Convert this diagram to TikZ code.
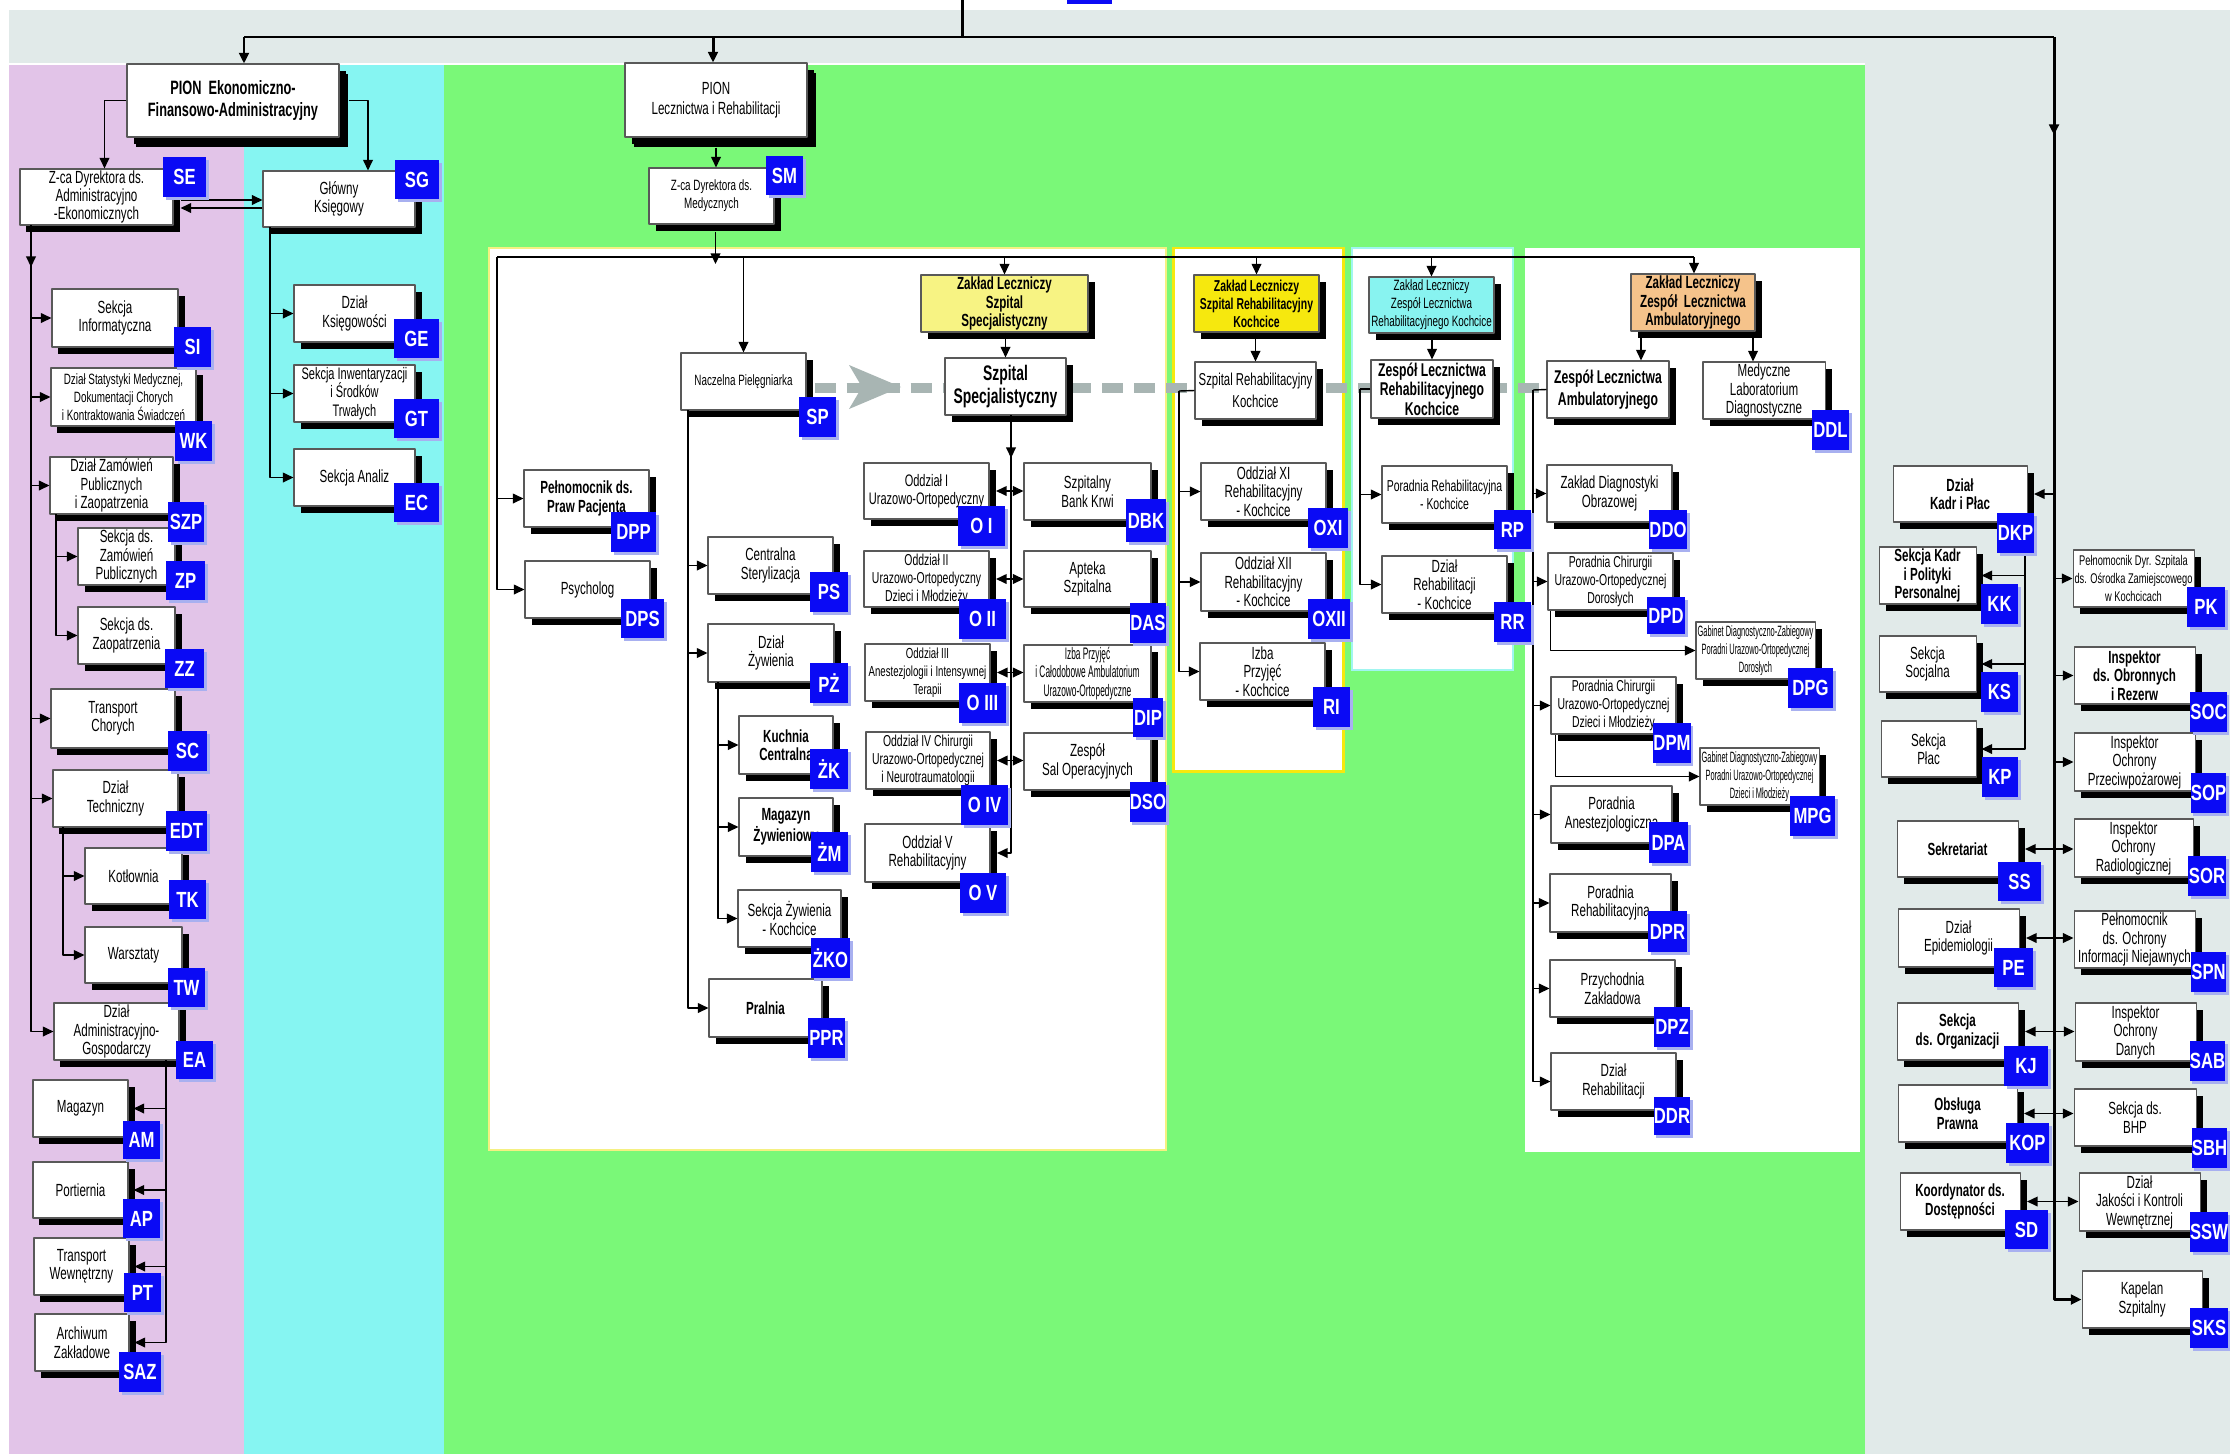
\documentclass[tikz,border=0pt]{standalone}
\usepackage{fontspec}
\setmainfont[FakeStretch=0.66]{Liberation Sans}
\newfontfamily\xnarrow[FakeStretch=0.5]{Liberation Sans}
\newfontfamily\codefamily[FakeStretch=0.76]{Liberation Sans}
\usetikzlibrary{arrows.meta,shadows,backgrounds}
\definecolor{bandgrey}{RGB}{225,234,233}
\definecolor{pinkbg}{RGB}{226,196,232}
\definecolor{cyanbg}{RGB}{134,245,242}
\definecolor{greenbg}{RGB}{122,248,120}
\definecolor{paleyellow}{RGB}{245,240,130}
\definecolor{rehabyellow}{RGB}{246,232,14}
\definecolor{palecyan}{RGB}{160,245,240}
\definecolor{specyellow}{RGB}{247,243,131}
\definecolor{rehabcyan}{RGB}{136,243,240}
\definecolor{ambulorange}{RGB}{245,195,139}
\definecolor{codeblue}{RGB}{10,10,245}
\definecolor{codeshade}{RGB}{168,176,240}
\definecolor{dashgrey}{RGB}{168,181,179}
\begin{document}
\begin{tikzpicture}[x=0.02cm, y=-0.02cm, line join=round, >={Triangle[length=6pt,width=5.5pt]},
  span/.style args={#1/#2/#3/#4}{at={({(#1+#3)/2},{(#2+#4)/2})},
    minimum width={(#3-#1)*0.02cm}, minimum height={(#4-#2)*0.02cm}},
  box/.style={draw=black!65, line width=0.6pt, fill=white, inner sep=0pt, align=center,
    font=\fontsize{10}{10.5}\selectfont,
    drop shadow={shadow xshift=0.13cm, shadow yshift=-0.13cm, fill=black, opacity=1}},
  bbox/.style={box, font=\fontsize{10}{10.5}\selectfont\bfseries},
  gabinet/.style={box, font=\xnarrow\fontsize{8.5}{10.3}\selectfont},
  pion/.style={box, drop shadow={shadow xshift=0.18cm, shadow yshift=-0.2cm, fill=black, opacity=1}},
  codebox/.style={fill=codeblue, text=white, inner sep=0pt,
    font=\codefamily\bfseries\fontsize{12.5}{13}\selectfont,
    drop shadow={shadow xshift=0.05cm, shadow yshift=-0.05cm, fill=codeshade, opacity=1}},
  link/.style={line width=0.8pt},
  trunk/.style={line width=1.7pt},
  dashline/.style={dashgrey, line width=0.2cm, dash pattern=on 0.42cm off 0.22cm}]
\useasboundingbox (0,0) rectangle (2230,1454);

% piony
\node[pion, font=\fontsize{11}{12}\selectfont\bfseries, span=127/64/339/137] (pionE) {PION \ Ekonomiczno-\\Finansowo-Administracyjny};
\node[pion, font=\fontsize{10}{11.5}\selectfont, span=625/63/807/137] (pionL) {PION\\Lecznictwa i Rehabilitacji};

% pion ekonomiczny
\node[box, span=20/169/173/225] (se) {Z-ca Dyrektora ds.\\Administracyjno\\-Ekonomicznych};
\node[box, span=263/171/415/227] (sg) {Główny\\Księgowy};
\node[box, span=52/289/178/347] (si) {Sekcja\\Informatyczna};
\node[box, font=\fontsize{8.5}{10.3}\selectfont, span=51/368/196/426] (wk) {Dział Statystyki Medycznej,\\Dokumentacji Chorych\\i Kontraktowania Świadczeń};
\node[box, span=50/457/173/514] (szp) {Dział Zamówień\\Publicznych\\i Zaopatrzenia};
\node[box, span=78/528/175/585] (zp) {Sekcja ds.\\Zamówień\\Publicznych};
\node[box, span=78/607/175/664] (zz) {Sekcja ds.\\Zaopatrzenia};
\node[box, span=51/689/175/748] (sc) {Transport\\Chorych};
\node[box, span=53/770/178/827] (edt) {Dział\\Techniczny};
\node[box, span=85/848/182/904] (tk) {Kotłownia};
\node[box, span=85/927/182/983] (tw) {Warsztaty};
\node[box, span=54/1003/179/1060] (ea) {Dział\\Administracyjno-\\Gospodarczy};
\node[box, span=33/1080/128/1137] (am) {Magazyn};
\node[box, span=33/1162/128/1218] (ap) {Portiernia};
\node[box, span=34/1238/129/1295] (pt) {Transport\\Wewnętrzny};
\node[box, span=35/1314/129/1371] (saz) {Archiwum\\Zakładowe};
\node[box, span=294/285/415/342] (ge) {Dział\\Księgowości};
\node[box, font=\fontsize{9.5}{10.5}\selectfont, span=294/365/415/422] (gt) {Sekcja Inwentaryzacji\\i Środków\\Trwałych};
\node[box, span=294/449/415/506] (ec) {Sekcja Analiz};

% pion lecznictwa
\node[box, font=\fontsize{8.5}{10.3}\selectfont, span=649/168/774/224] (sm) {Z-ca Dyrektora ds.\\Medycznych};
\node[box, font=\fontsize{8.5}{10.3}\selectfont, span=681/353/806/410] (sp) {Naczelna Pielęgniarka};
\node[bbox, span=524/470/649/527] (dpp) {Pełnomocnik ds.\\Praw Pacjenta};
\node[box, span=525/561/650/618] (dps) {Psycholog};
\node[box, span=708/537/833/594] (ps) {Centralna\\Sterylizacja};
\node[box, span=708/624/834/682] (pz) {Dział\\Żywienia};
\node[bbox, span=739/716/833/774] (zk) {Kuchnia\\Centralna};
\node[bbox, span=739/798/833/856] (zmg) {Magazyn\\Żywieniowy};
\node[box, span=738/890/841/947] (zko) {Sekcja Żywienia\\- Kochcice};
\node[bbox, span=709/979/822/1037] (ppr) {Pralnia};

\node[bbox, fill=specyellow, span=921/275/1088/332] (zss) {Zakład Leczniczy\\Szpital\\Specjalistyczny};
\node[box, font=\fontsize{12}{13.5}\selectfont\bfseries, span=945/358/1066/415] (szs) {Szpital\\Specjalistyczny};
\node[box, font=\fontsize{9.5}{10.5}\selectfont, span=864/463/989/519] (oi) {Oddział I\\Urazowo-Ortopedyczny};
\node[box, font=\fontsize{9}{10.3}\selectfont, span=864/551/989/607] (oii) {Oddział II\\Urazowo-Ortopedyczny\\Dzieci i Młodzieży};
\node[box, font=\fontsize{8.3}{10.3}\selectfont, span=865/644/990/701] (oiii) {Oddział III\\Anestezjologii i Intensywnej\\Terapii};
\node[box, font=\fontsize{9}{10.3}\selectfont, span=866/732/990/789] (oiv) {Oddział IV Chirurgii\\Urazowo-Ortopedycznej\\i Neurotraumatologii};
\node[box, span=865/824/990/882] (ov) {Oddział V\\Rehabilitacyjny};
\node[box, span=1024/463/1151/520] (dbk) {Szpitalny\\Bank Krwi};
\node[box, span=1024/551/1151/607] (das) {Apteka\\Szpitalna};
\node[gabinet, font=\xnarrow\fontsize{9.5}{10.3}\selectfont, span=1024/645/1151/702] (dip) {Izba Przyjęć\\i Całodobowe Ambulatorium\\Urazowo-Ortopedyczne};
\node[box, span=1024/733/1151/790] (dso) {Zespół\\Sal Operacyjnych};

\node[bbox, font=\fontsize{9}{10.3}\selectfont\bfseries, fill=rehabyellow, span=1194/275/1319/332] (zsr) {Zakład Leczniczy\\Szpital Rehabilitacyjny\\Kochcice};
\node[box, font=\fontsize{9.8}{12.5}\selectfont, span=1195/362/1316/419] (srk) {Szpital Rehabilitacyjny\\Kochcice};
\node[box, span=1201/463/1326/520] (oxi) {Oddział XI\\Rehabilitacyjny\\- Kochcice};
\node[box, span=1201/553/1326/611] (oxii) {Oddział XII\\Rehabilitacyjny\\- Kochcice};
\node[box, span=1200/643/1325/700] (ri) {Izba\\Przyjęć\\- Kochcice};

\node[box, font=\fontsize{8.5}{10.3}\selectfont, fill=rehabcyan, span=1369/277/1494/333] (zlr) {Zakład Leczniczy\\Zespół Lecznictwa\\Rehabilitacyjnego Kochcice};
\node[box, font=\fontsize{10.5}{11}\selectfont\bfseries, span=1371/360/1493/418] (zrk) {Zespół Lecznictwa\\Rehabilitacyjnego\\Kochcice};
\node[box, font=\fontsize{9}{10.3}\selectfont, span=1382/466/1507/523] (rp) {Poradnia Rehabilitacyjna\\- Kochcice};
\node[box, span=1382/556/1507/613] (rr) {Dział\\Rehabilitacji\\- Kochcice};

\node[bbox, fill=ambulorange, span=1631/274/1755/331] (zla) {Zakład Leczniczy\\Zespół \ Lecznictwa\\Ambulatoryjnego};
\node[box, font=\fontsize{10.5}{12.5}\selectfont\bfseries, span=1547/361/1669/418] (zam) {Zespół Lecznictwa\\Ambulatoryjnego};
\node[box, span=1703/362/1825/419] (ddl) {Medyczne\\Laboratorium\\Diagnostyczne};
\node[box, span=1547/465/1672/522] (ddo) {Zakład Diagnostyki\\Obrazowej};
\node[box, font=\fontsize{9}{10.3}\selectfont, span=1548/553/1673/610] (dpd) {Poradnia Chirurgii\\Urazowo-Ortopedycznej\\Dorosłych};
\node[gabinet, span=1696/622/1815/679] (dpg) {Gabinet Diagnostyczno-Zabiegowy\\Poradni Urazowo-Ortopedycznej\\Dorosłych};
\node[box, font=\fontsize{9}{10.3}\selectfont, span=1551/677/1676/734] (dpm) {Poradnia Chirurgii\\Urazowo-Ortopedycznej\\Dzieci i Młodzieży};
\node[gabinet, span=1700/748/1819/805] (mpg) {Gabinet Diagnostyczno-Zabiegowy\\Poradni Urazowo-Ortopedycznej\\Dzieci i Młodzieży};
\node[box, span=1551/786/1672/843] (dpa) {Poradnia\\Anestezjologiczna};
\node[box, span=1550/874/1671/932] (dpr) {Poradnia\\Rehabilitacyjna};
\node[box, span=1550/960/1675/1017] (dpz) {Przychodnia\\Zakładowa};
\node[box, span=1551/1053/1676/1110] (ddr) {Dział\\Rehabilitacji};

% komorki dyrektora
\node[bbox, span=1893/466/2027/522] (dkp) {Dział\\Kadr i Płac};
\node[bbox, span=1879/547/1976/604] (kk) {Sekcja Kadr\\i Polityki\\Personalnej};
\node[box, span=1879/636/1976/692] (ks) {Sekcja\\Socjalna};
\node[box, span=1881/721/1976/777] (kp) {Sekcja\\Płac};
\node[bbox, span=1897/821/2018/877] (ss) {Sekretariat};
\node[box, span=1898/909/2019/967] (pe) {Dział\\Epidemiologii};
\node[bbox, span=1897/1003/2018/1060] (kj) {Sekcja\\ds. Organizacji};
\node[bbox, span=1898/1085/2017/1142] (kop) {Obsługa\\Prawna};
\node[bbox, span=1900/1173/2020/1230] (sd) {Koordynator ds.\\Dostępności};
\node[box, font=\fontsize{8}{10.3}\selectfont, span=2073/550/2194/607] (pk) {Pełnomocnik Dyr. Szpitala\\ds. Ośrodka Zamiejscowego\\w Kochcicach};
\node[bbox, span=2074/647/2195/704] (soc) {Inspektor\\ds. Obronnych\\i Rezerw};
\node[box, span=2074/733/2195/791] (sop) {Inspektor\\Ochrony\\Przeciwpożarowej};
\node[box, span=2074/819/2193/877] (sor) {Inspektor\\Ochrony\\Radiologicznej};
\node[box, span=2074/911/2195/968] (spn) {Pełnomocnik\\ds. Ochrony\\Informacji Niejawnych};
\node[box, span=2075/1003/2196/1061] (sab) {Inspektor\\Ochrony\\Danych};
\node[box, span=2074/1089/2196/1146] (sbh) {Sekcja ds.\\BHP};
\node[box, span=2079/1173/2200/1231] (ssw) {Dział\\Jakości i Kontroli\\Wewnętrznej};
\node[box, span=2082/1271/2202/1328] (sks) {Kapelan\\Szpitalny};

% linie glowne
\coordinate (dir) at (962,0);
\coordinate (tE) at (244,37);
\coordinate (tL) at (713,37);
\coordinate (tR) at (2054,37);
\draw[trunk] (dir) -- (dir |- tE);
\draw[trunk] (tE) -- (tR);
\draw[trunk,->] (tE) -- (tE |- pionE.north);
\draw[trunk,->] (tL) -- (tL |- pionL.north);
\draw[trunk,->] (tR) -- ++(0,98);
\draw[trunk,->] (tR) |- (sks.west);
\fill[codeblue] (1067,0) rectangle (1112,4);

% pion ekonomiczny
\draw[link,->] (pionE.west) -| ([shift={(8,0)}]se.north);
\draw[link,->] ([shift={(9,0)}]pionE.east) -| ([shift={(29,0)}]sg.north);
\draw[link,->] ([shift={(7,3)}]se.east) -- ([shift={(0,3)}]se.east -| sg.west);
\draw[link,->] ([shift={(0,11)}]se.east -| sg.west) -- ([shift={(7,11)}]se.east);
\coordinate (sA) at (31,225);
\draw[link,->] (sA) -- ++(0,42);
\foreach \n in {si,wk,szp,sc,edt,ea}
  \draw[link,->] (sA) |- (\n.west);
\coordinate (sB) at (56,514);
\foreach \n in {zp,zz}
  \draw[link,->] (sB) |- (\n.west);
\coordinate (sC) at (63,827);
\foreach \n in {tk,tw}
  \draw[link,->] (sC) |- (\n.west);
\coordinate (sD) at (166,1060);
\foreach \n in {am,ap,pt,saz}
  \draw[link,->] (sD) |- ([xshift=0.1cm]\n.east);
\coordinate (sE) at (270,227);
\foreach \n in {ge,gt,ec}
  \draw[link,->] (sE) |- (\n.west);

% pion lecznictwa
\draw[link,->] ([yshift=-0.2cm]pionL.south) -- (pionL.south |- sm.north);
\coordinate (dL) at (497,257);
\coordinate (dR) at (1694,257);
\draw[link] (dL) -- (dR);
\draw[link,->] ([shift={(4,7)}]sm.south) -- ([shift={(4,7)}]sm.south |- dL);
\foreach \n in {dpp,dps}
  \draw[link,->] (dL) |- (\n.west);
\foreach \n in {sp,zss,zsr,zlr}
  \draw[link,->] (\n.north |- dL) -- (\n.north);
\draw[link,->] (dR) -- (dR |- zla.north);
\draw[link,->] (szs.north |- zss.south) -- (szs.north);
\draw[link,->] (srk.north |- zsr.south) -- (srk.north);
\draw[link,->] (zrk.north |- zlr.south) -- (zrk.north);
\draw[link,->] ([xshift=0.66cm]zam.north |- zla.south) -- ([xshift=0.66cm]zam.north);
\draw[link,->] ([xshift=-0.22cm]ddl.north |- zla.south) -- ([xshift=-0.22cm]ddl.north);
\coordinate (sN) at (688,410);
\foreach \n in {ps,pz,ppr}
  \draw[link,->] (sN) |- (\n.west);
\coordinate (sZ) at (718,682);
\foreach \n in {zk,zmg,zko}
  \draw[link,->] (sZ) |- (\n.west);
\coordinate (sS) at (1011,415);
\draw[link,->] (sS) -- ++(0,43);
\draw[link,->] (sS) |- ([xshift=0.13cm]ov.east);
\foreach \a/\b in {oi/dbk,oii/das,oiii/dip,oiv/dso}
  \draw[link,<->] ([xshift=0.13cm]\a.east) -- (\a.east -| \b.west);
\coordinate (sR) at (1179,391);
\draw[link] (srk.west) -- (sR);
\foreach \n in {oxi,oxii,ri}
  \draw[link,->] (sR) |- (\n.west);
\coordinate (sP) at (1360,389);
\draw[link] (zrk.west) -- (sP);
\foreach \n in {rp,rr}
  \draw[link,->] (sP) |- (\n.west);
\coordinate (sQ) at (1533,390);
\draw[link] (zam.west) -- (sQ);
\foreach \n in {ddo,dpd,dpm,dpa,dpr,dpz,ddr}
  \draw[link,->] (sQ) |- (\n.west);
\draw[link,->] ([xshift=0.06cm]dpd.south west) |- (dpg.west);
\draw[link,->] ([xshift=0.1cm]dpm.south west) |- (mpg.west);

% komorki dyrektora
\draw[link,->] (dkp.east -| tR) -- ([xshift=0.13cm]dkp.east);
\coordinate (sK) at (2025,522);
\foreach \n in {kk,ks,kp}
  \draw[link,->] (sK) |- ([xshift=0.1cm]\n.east);
\foreach \n in {pk,soc,sop}
  \draw[link,->] (\n.west -| tR) -- (\n.west);
\foreach \a/\b in {ss/sor,pe/spn,kj/sab,kop/sbh,sd/ssw}
  \draw[link,<->] ([xshift=0.13cm]\a.east) -- (\a.east -| \b.west);

% tla
\begin{scope}[on background layer]
  \fill[bandgrey] (9,10) rectangle (2230,63);
  \fill[bandgrey] (1865,10) rectangle (2230,1454);
  \fill[pinkbg] (9,65) rectangle (244,1454);
  \fill[cyanbg] (244,65) rectangle (444,1454);
  \fill[greenbg] (444,65) rectangle (1865,1454);
  \filldraw[fill=white, draw=paleyellow, line width=1.2pt] (489,248) rectangle (1166,1150);
  \filldraw[fill=white, draw=rehabyellow, line width=1.7pt] (1173,248) rectangle (1343,771);
  \filldraw[fill=white, draw=palecyan, line width=1.2pt] (1352,248) rectangle (1513,670);
  \fill[white] (1525,248) rectangle (1860,1152);
  \draw[dashline] ([shift={(8,6)}]sp.east) -- ([shift={(-7,6)}]sp.east -| zam.west);
  \fill[dashgrey] (849,365) -- (901,387) -- (849,409) -- (862,387) -- cycle;
\end{scope}

% kody
\foreach \n/\xa/\ya/\xb/\yb/\t in {se/163/157/206/197/SE, sg/395/160/439/199/SG,
  si/174/327/211/367/SI, wk/175/421/212/461/WK, szp/168/502/204/542/SZP,
  zp/166/561/205/600/ZP, zz/165/649/204/688/ZZ, sc/168/731/207/771/SC,
  edt/166/811/207/851/EDT, tk/169/880/206/919/TK, tw/168/968/205/1007/TW,
  ea/176/1041/213/1079/EA, am/123/1121/160/1159/AM, ap/123/1199/160/1238/AP,
  pt/124/1273/161/1312/PT, saz/119/1352/161/1392/SAZ, ge/394/319/439/358/GE,
  gt/394/399/439/438/GT, ec/394/483/439/522/EC, sm/766/156/803/195/SM,
  sp/799/397/836/437/SP, dpp/611/512/656/552/DPP, dps/621/599/664/638/DPS,
  ps/810/572/848/612/PS, pz/810/663/848/703/PŻ, zk/810/749/848/789/ŻK,
  zmg/811/832/848/872/ŻM, zko/811/938/850/978/ŻKO, ppr/808/1018/845/1058/PPR,
  oi/958/506/1005/546/O I, oii/959/599/1006/639/O II, oiii/959/683/1006/723/O III,
  oiv/961/785/1008/825/O IV, ov/960/873/1006/913/O V, dbk/1126/499/1166/542/DBK,
  das/1130/603/1166/643/DAS, dip/1133/698/1163/737/DIP, dso/1130/782/1166/822/DSO,
  oxi/1308/508/1348/548/OXI, oxii/1308/599/1350/639/OXII, ri/1313/687/1350/727/RI,
  rp/1494/510/1531/549/RP, rr/1494/602/1531/642/RR, ddl/1812/410/1849/450/DDL,
  ddo/1649/510/1687/549/DDO, dpd/1647/597/1685/634/DPD, dpg/1788/668/1833/708/DPG,
  dpm/1654/723/1690/763/DPM, mpg/1790/796/1835/836/MPG, dpa/1649/822/1688/863/DPA,
  dpr/1648/911/1687/952/DPR, dpz/1654/1007/1690/1047/DPZ, ddr/1654/1097/1690/1135/DDR,
  dkp/1997/513/2034/553/DKP, kk/1981/584/2018/624/KK, ks/1981/672/2018/712/KS,
  kp/1982/757/2018/797/KP, ss/1998/862/2041/901/SS, pe/1994/948/2033/987/PE,
  kj/2004/1046/2048/1086/KJ, kop/2006/1123/2049/1163/KOP, sd/2005/1210/2048/1249/SD,
  pk/2187/587/2225/627/PK, soc/2191/692/2226/732/SOC, sop/2191/773/2226/813/SOP,
  sor/2188/856/2226/896/SOR, spn/2191/952/2226/992/SPN, sab/2190/1041/2225/1081/SAB,
  sbh/2192/1128/2227/1168/SBH, ssw/2190/1212/2228/1252/SSW, sks/2190/1308/2228/1348/SKS}
  \node[codebox, span=\xa/\ya/\xb/\yb] (\n-c) {\t};
\end{tikzpicture}
\end{document}
